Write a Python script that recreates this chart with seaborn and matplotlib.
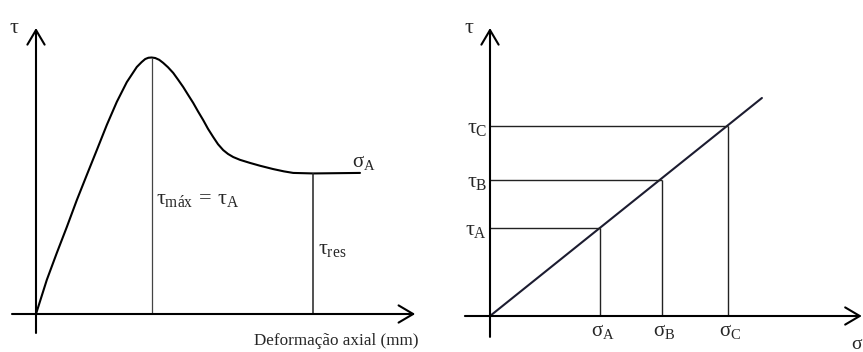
import matplotlib
matplotlib.use("Agg")
import matplotlib.pyplot as plt
import seaborn as sns
import pandas as pd

# --- Shear stress vs. axial strain (direct shear test curve) ---
deform = [0.0, 0.27, 0.52, 0.77, 1.02, 1.27, 1.52, 1.77, 2.02, 2.27, 2.52,
          2.64, 2.73, 2.81, 2.89, 2.98, 3.08, 3.18, 3.30, 3.43, 3.55, 3.68,
          3.80, 3.93, 4.05, 4.18, 4.30, 4.43, 4.55, 4.68, 4.80, 4.93, 5.10,
          5.35, 5.60, 5.93, 6.20, 6.43, 6.93, 8.10]
shear = [0.0, 1.33, 2.38, 3.39, 4.44, 5.42, 6.39, 7.37, 8.27, 9.04, 9.63,
         9.82, 9.94, 9.99, 10.0, 9.98, 9.91, 9.79, 9.62, 9.40, 9.14, 8.85,
         8.55, 8.23, 7.90, 7.56, 7.22, 6.90, 6.62, 6.39, 6.24, 6.12, 6.01,
         5.89, 5.78, 5.65, 5.56, 5.50, 5.48, 5.50]
peak_deform, tau_max = 2.89, 10.0
res_deform, tau_res = 6.93, 5.48

# --- Failure envelope: normal stress vs. shear stress ---
env_sigma = [0.0, 12.36]
env_tau = [0.0, 9.91]
sigma_pts = [5.0, 7.82, 10.82]
tau_pts = [4.0, 6.18, 8.64]
pt_names = ["A", "B", "C"]

sns.set_theme(style="white")
plt.rcParams["font.family"] = ["Liberation Serif", "DejaVu Serif"]
plt.rcParams["mathtext.fontset"] = "custom"
plt.rcParams["mathtext.rm"] = "Liberation Serif"
plt.rcParams["mathtext.it"] = "Liberation Serif"
plt.rcParams["mathtext.bf"] = "Liberation Serif:bold"

fig = plt.figure(figsize=(8.63, 3.52), dpi=100)
ax1 = fig.add_axes([0.0, 0.0, 0.5, 1.0])
ax2 = fig.add_axes([0.5, 0.0, 0.5, 1.0])
for ax in (ax1, ax2):
    ax.set_axis_off()

# pixel-based scaling of each panel
ax1.set_xlim((0 - 36) / 40, (431.5 - 36) / 40)
ax1.set_ylim((314 - 352) / 25.65, (314 - 0) / 25.65)
ax2.set_xlim((431.5 - 490) / 22, (863 - 490) / 22)
ax2.set_ylim((316 - 352) / 22, (316 - 0) / 22)

AX_LW = 1.5
arrow_style = "->,head_length=1.05,head_width=0.62"


def axis_arrow(ax, start, end):
    ax.annotate("", xy=end, xytext=start,
                arrowprops=dict(arrowstyle=arrow_style, lw=AX_LW, color="black",
                                shrinkA=0, shrinkB=0, mutation_scale=10),
                annotation_clip=False)


# Left panel: stress-strain curve
df1 = pd.DataFrame({"deform": deform, "shear": shear})
sns.lineplot(data=df1, x="deform", y="shear", ax=ax1, color="black",
             lw=1.5, estimator=None, sort=False, solid_joinstyle="round")
ax1.vlines(peak_deform, 0, tau_max, color="#444444", lw=0.9)
ax1.vlines(res_deform, 0, tau_res, color="#222222", lw=1.1)
axis_arrow(ax1, (-0.6, 0), (9.48, 0))
axis_arrow(ax1, (0, -0.74), (0, 11.15))

ax1.text(-0.55, 11.15, r"$\tau$", fontsize=16, ha="center", va="center")
ax1.text(7.9, 5.9, r"$\sigma_{\mathrm{A}}$", fontsize=15, ha="left", va="center")
ax1.text(3.0, 4.45, r"$\tau_{\mathrm{máx}}\,=\,\tau_{\mathrm{A}}$", fontsize=16,
         ha="left", va="center")
ax1.text(7.05, 2.5, r"$\tau_{\mathrm{res}}$", fontsize=16, ha="left", va="center")
ax1.text(5.45, -1.05, "Deformação axial (mm)", fontsize=12.3, ha="left",
         va="center")

# Right panel: failure envelope
df2 = pd.DataFrame({"sigma": env_sigma, "tau": env_tau})
sns.lineplot(data=df2, x="sigma", y="tau", ax=ax2, color="#1c1c30",
             lw=1.5, estimator=None, sort=False)
for s, t, n in zip(sigma_pts, tau_pts, pt_names):
    ax2.hlines(t, 0, s, color="#222222", lw=1.0)
    ax2.vlines(s, 0, t, color="#222222", lw=1.0)
    ax2.text(-0.12, t - 0.1, r"$\tau_{\mathrm{%s}}$" % n, fontsize=16,
             ha="right", va="center")
    ax2.text(s - 0.4, -0.72, r"$\sigma_{\mathrm{%s}}$" % n, fontsize=15,
             ha="left", va="center")
axis_arrow(ax2, (-1.14, 0), (16.9, 0))
axis_arrow(ax2, (0, -0.95), (0, 13.09))

ax2.text(-0.95, 13.05, r"$\tau$", fontsize=16, ha="center", va="center")
ax2.text(16.95, -1.3, r"$\sigma$", fontsize=14, ha="right", va="center")

fig.savefig("out.png", dpi=100)
